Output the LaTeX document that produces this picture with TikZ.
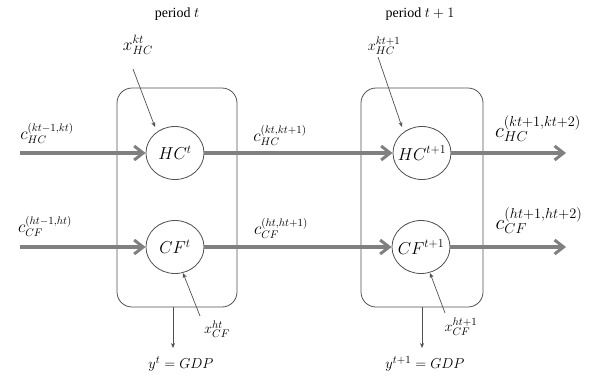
\documentclass[tikz,border=0pt]{standalone}
\usepackage{fontspec}
\setmainfont{Liberation Serif}
\usetikzlibrary{arrows.meta,shapes.geometric}
\definecolor{flowgray}{RGB}{128,128,128}
\definecolor{linegray}{RGB}{80,80,80}
\begin{document}
\begin{tikzpicture}[x=1pt,y=-1pt,
  periodbox/.style={draw=linegray,line width=0.8pt,rounded corners=15pt},
  stock/.style={draw=linegray,line width=0.8pt,ellipse,minimum width=58pt,minimum height=53pt,inner sep=0pt},
  stocktext/.style={inner sep=0pt,font=\fontsize{17}{20}\selectfont},
  flow/.style={draw=flowgray,line width=3.5pt,-{Straight Barb[length=9pt,width=14pt,line width=3pt]}},
  thinarrow/.style={draw=linegray,line width=0.7pt,-{Stealth[length=5pt,width=4pt]}},
  lab/.style={inner sep=1pt,font=\fontsize{16}{19}\selectfont},
  biglab/.style={inner sep=1pt,font=\fontsize{22}{26}\selectfont},
  invlab/.style={inner sep=1pt,font=\fontsize{15}{18}\selectfont},
  gdplab/.style={inner sep=1pt,font=\fontsize{15.5}{18}\selectfont},
  periodlab/.style={inner sep=1pt,font=\fontsize{14}{17}\selectfont}]
\useasboundingbox (0,0) rectangle (599,378);
% boxes
\draw[periodbox] (117,88) rectangle (237,307);
\draw[periodbox] (361,88) rectangle (483,307);
% stocks
\node[stock] (hc1) at (175,153) {};
\node[stock] (hc2) at (422,153) {};
\node[stock] (cf1) at (175,247) {};
\node[stock] (cf2) at (421,247) {};
\node[stocktext] (hc1t) at (hc1) {$HC^{t}$};
\node[stocktext] (hc2t) at (hc2) {$HC^{t+1}$};
\node[stocktext] (cf1t) at (cf1) {$CF^{t}$};
\node[stocktext] (cf2t) at (cf2) {$CF^{t+1}$};
% free ends
\coordinate (hcin) at (20,153);
\coordinate (hcout) at (566,153);
\coordinate (cfin) at (20,247);
\coordinate (cfout) at (566,247);
% flows
\draw[flow] (hcin) -- (hc1);
\draw[flow] (hc1) -- (hc2);
\draw[flow] (hc2) -- (hcout);
\draw[flow] (cfin) -- (cf1);
\draw[flow] (cf1) -- (cf2);
\draw[flow] (cf2) -- (cfout);
% flow labels
\node[lab] (l1) at (47,133) {$c_{HC}^{(kt-1,kt)}$};
\node[lab] (l2) at (280,135) {$c_{HC}^{(kt,kt+1)}$};
\node[biglab] (l3) at (538,129) {$c_{HC}^{(kt+1,kt+2)}$};
\node[lab] (l4) at (45,226) {$c_{CF}^{(ht-1,ht)}$};
\node[lab] (l5) at (281,228) {$c_{CF}^{(ht,ht+1)}$};
\node[biglab] (l6) at (539,221) {$c_{CF}^{(ht+1,ht+2)}$};
% periods
\node[periodlab] (p1) at (177,14) {period $t$};
\node[periodlab] (p2) at (420,14) {period $t+1$};
% investments
\node[biglab,font=\fontsize{18}{21}\selectfont] (xh1) at (138,45) {$x_{HC}^{kt}$};
\node[invlab] (xh2) at (384,46) {$x_{HC}^{kt+1}$};
\node[invlab] (xc1) at (217,329) {$x_{CF}^{ht}$};
\node[invlab] (xc2) at (461,327) {$x_{CF}^{ht+1}$};
\coordinate (xh1e) at (133,69);
\coordinate (xh2e) at (378,57);
\coordinate (xc1e) at (200,316);
\coordinate (xc2e) at (445,313);
\coordinate (xh1t) at (155,127);
\coordinate (xh2t) at (402,127);
\coordinate (xc1t) at (183,273);
\coordinate (xc2t) at (430,273);
\draw[thinarrow] (xh1e) -- (xh1t);
\draw[thinarrow] (xh2e) -- (xh2t);
\draw[thinarrow] (xc1e) -- (xc1t);
\draw[thinarrow] (xc2e) -- (xc2t);
% GDP
\coordinate (g1s) at (173,307);
\coordinate (g2s) at (422,307);
\coordinate (g1e) at (173,348);
\coordinate (g2e) at (422,348);
\node[gdplab] (g1) at (181,364) {$y^{t}=GDP$};
\node[gdplab] (g2) at (425,364) {$y^{t+1}=GDP$};
\draw[thinarrow] (g1s) -- (g1e);
\draw[thinarrow] (g2s) -- (g2e);
\end{tikzpicture}
\end{document}
